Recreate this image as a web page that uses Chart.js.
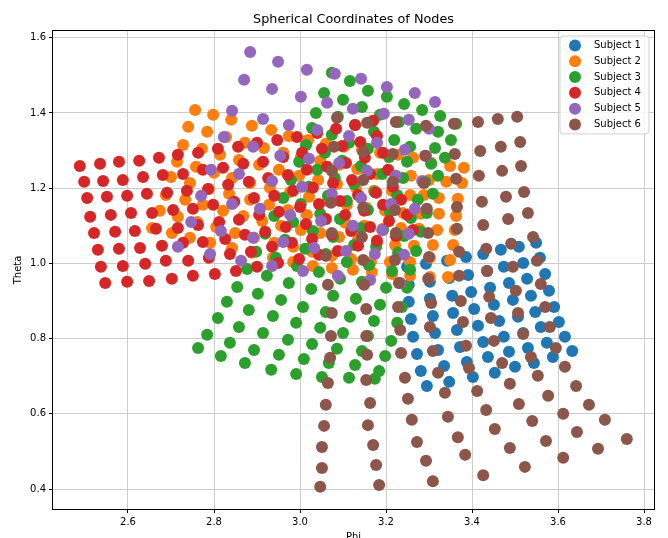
<!DOCTYPE html>
<html lang="en">
<head>
<meta charset="UTF-8">
<title>Spherical Coordinates of Nodes</title>
<script src="https://cdn.jsdelivr.net/npm/chart.js@4"></script>
<style>
  html, body { margin: 0; padding: 0; background: #fff; }
  #wrap { width: 668px; height: 538px; }
</style>
</head>
<body>
<div id="wrap"><canvas id="nodesChart" width="668" height="538"></canvas></div>
<script>
const subjectNames = ['Subject 1', 'Subject 2', 'Subject 3', 'Subject 4', 'Subject 5', 'Subject 6'];
const subjectColors = ['#1f77b4', '#ff7f0e', '#2ca02c', '#d62728', '#9467bd', '#8c564b'];
const xTicks = [2.6, 2.8, 3.0, 3.2, 3.4, 3.6, 3.8];
const yTicks = [0.4, 0.6, 0.8, 1.0, 1.2, 1.4, 1.6];
const phiRange = [2.4256, 3.8232];
const thetaRange = [0.347, 1.618];

// Subject 1 (8 x 8 nodes)
const s1Phi = [
  3.295, 3.347, 3.402, 3.453, 3.500, 3.544, 3.588, 3.633,
  3.281, 3.335, 3.388, 3.437, 3.486, 3.530, 3.574, 3.616,
  3.272, 3.321, 3.372, 3.426, 3.474, 3.519, 3.560, 3.602,
  3.263, 3.314, 3.365, 3.414, 3.463, 3.507, 3.547, 3.591,
  3.258, 3.309, 3.356, 3.405, 3.451, 3.495, 3.537, 3.579,
  3.253, 3.302, 3.354, 3.398, 3.442, 3.486, 3.528, 3.570,
  3.253, 3.302, 3.347, 3.391, 3.435, 3.474, 3.519, 3.558,
  3.249, 3.293, 3.342, 3.386, 3.426, 3.467, 3.509, 3.549
];
const s1Theta = [
  0.674, 0.685, 0.698, 0.709, 0.725, 0.735, 0.751, 0.767,
  0.714, 0.727, 0.738, 0.751, 0.765, 0.775, 0.789, 0.805,
  0.759, 0.770, 0.778, 0.791, 0.805, 0.815, 0.831, 0.844,
  0.805, 0.815, 0.823, 0.834, 0.847, 0.858, 0.871, 0.884,
  0.852, 0.860, 0.868, 0.879, 0.890, 0.903, 0.914, 0.927,
  0.898, 0.906, 0.914, 0.924, 0.935, 0.948, 0.959, 0.972,
  0.943, 0.951, 0.961, 0.969, 0.980, 0.991, 1.001, 1.015,
  0.991, 0.999, 1.007, 1.017, 1.025, 1.036, 1.044, 1.055
];

// Subject 2
const s2Phi = [
  2.756, 2.798, 2.840, 2.888, 2.933, 2.974, 3.019, 3.060, 3.102, 3.144, 3.186, 3.228, 3.263, 3.305, 3.349, 3.381,
  2.740, 2.784, 2.828, 2.872, 2.916, 2.961, 3.002, 3.047, 3.091, 3.133, 3.179, 3.221, 3.258, 3.300, 3.340, 3.377,
  2.728, 2.772, 2.814, 2.858, 2.905, 2.951, 2.998, 3.042, 3.086, 3.130, 3.172, 3.214, 3.256, 3.288, 3.323, 3.367,
  2.714, 2.758, 2.800, 2.842, 2.884, 2.930, 2.977, 3.021, 3.065, 3.109, 3.154, 3.198, 3.240, 3.281, 3.323, 3.363,
  2.700, 2.744, 2.788, 2.835, 2.884, 2.928, 2.972, 3.016, 3.060, 3.105, 3.149, 3.193, 3.235, 3.277, 3.319, 3.360,
  2.688, 2.733, 2.774, 2.821, 2.868, 2.912, 2.956, 3.002, 3.047, 3.091, 3.135, 3.179, 3.221, 3.265, 3.309, 3.356,
  2.674, 2.716, 2.761, 2.805, 2.849, 2.893, 2.940, 2.984, 3.028, 3.074, 3.119, 3.165, 3.209, 3.256, 3.302, 3.349,
  2.656, 2.702, 2.744, 2.791, 2.842, 2.888, 2.937, 2.984, 3.030, 3.074, 3.123, 3.167, 3.214, 3.256, 3.302, 3.344
];
const s2Theta = [
  1.408, 1.395, 1.382, 1.366, 1.355, 1.339, 1.328, 1.318, 1.310, 1.302, 1.294, 1.289, 1.281, 1.267, 1.259, 1.254,
  1.363, 1.350, 1.336, 1.321, 1.307, 1.294, 1.283, 1.273, 1.262, 1.251, 1.238, 1.233, 1.233, 1.222, 1.217, 1.214,
  1.315, 1.305, 1.289, 1.275, 1.262, 1.249, 1.233, 1.222, 1.211, 1.201, 1.193, 1.193, 1.182, 1.182, 1.174, 1.172,
  1.270, 1.257, 1.241, 1.227, 1.214, 1.201, 1.190, 1.177, 1.166, 1.156, 1.148, 1.140, 1.134, 1.132, 1.132, 1.126,
  1.230, 1.214, 1.198, 1.185, 1.169, 1.156, 1.142, 1.129, 1.118, 1.108, 1.100, 1.092, 1.094, 1.092, 1.089, 1.089,
  1.182, 1.169, 1.156, 1.140, 1.126, 1.113, 1.100, 1.089, 1.081, 1.070, 1.063, 1.055, 1.049, 1.047, 1.049, 1.049,
  1.140, 1.124, 1.110, 1.097, 1.081, 1.068, 1.055, 1.044, 1.031, 1.020, 1.012, 1.004, 1.004, 1.004, 1.015, 1.009,
  1.094, 1.081, 1.068, 1.055, 1.041, 1.028, 1.015, 1.004, 0.993, 0.988, 0.983, 0.977, 0.972, 0.967, 0.964, 0.964
];

// Subject 3 (columns, bottom to top)
const s3Phi = [
  2.763, 2.784, 2.809, 2.830, 2.854, 2.877, 2.898, 2.919, 2.940, 2.961, 2.979, 2.998, 3.014, 3.028, 3.037, 3.056, 3.074,
  2.816, 2.837, 2.858, 2.881, 2.902, 2.923, 2.944, 2.965, 2.984, 3.002, 3.021, 3.040, 3.058, 3.074, 3.088, 3.100, 3.116,
  2.872, 2.893, 2.914, 2.937, 2.956, 2.974, 2.993, 3.012, 3.030, 3.047, 3.065, 3.081, 3.098, 3.114, 3.128, 3.144, 3.158,
  2.933, 2.951, 2.972, 2.991, 3.007, 3.026, 3.044, 3.060, 3.077, 3.093, 3.109, 3.126, 3.142, 3.158, 3.172, 3.186, 3.202,
  2.991, 3.009, 3.028, 3.047, 3.060, 3.077, 3.093, 3.109, 3.126, 3.142, 3.158, 3.174, 3.191, 3.207, 3.219, 3.230, 3.242,
  3.051, 3.067, 3.086, 3.100, 3.116, 3.130, 3.144, 3.160, 3.177, 3.193, 3.209, 3.226, 3.240, 3.249, 3.256, 3.270, 3.284,
  3.114, 3.128, 3.144, 3.158, 3.172, 3.186, 3.200, 3.214, 3.228, 3.242, 3.258, 3.274, 3.291, 3.305, 3.314, 3.321, 3.326,
  3.174, 3.184, 3.198, 3.212, 3.226, 3.237, 3.249, 3.256, 3.270, 3.281, 3.295, 3.309, 3.321, 3.337, 3.351, 3.363
];
const s3Theta = [
  0.775, 0.810, 0.855, 0.898, 0.937, 0.985, 1.031, 1.079, 1.126, 1.174, 1.222, 1.270, 1.315, 1.360, 1.400, 1.453, 1.507,
  0.754, 0.789, 0.831, 0.876, 0.919, 0.967, 1.015, 1.063, 1.110, 1.158, 1.204, 1.249, 1.294, 1.342, 1.390, 1.435, 1.485,
  0.735, 0.770, 0.815, 0.860, 0.903, 0.948, 0.993, 1.039, 1.086, 1.132, 1.180, 1.227, 1.273, 1.321, 1.368, 1.416, 1.459,
  0.717, 0.757, 0.797, 0.842, 0.884, 0.932, 0.977, 1.025, 1.070, 1.118, 1.166, 1.211, 1.259, 1.305, 1.350, 1.395, 1.443,
  0.706, 0.746, 0.786, 0.829, 0.871, 0.914, 0.959, 1.004, 1.049, 1.094, 1.142, 1.190, 1.238, 1.283, 1.328, 1.376, 1.424,
  0.698, 0.735, 0.773, 0.815, 0.858, 0.906, 0.951, 0.996, 1.044, 1.089, 1.137, 1.182, 1.227, 1.270, 1.310, 1.358, 1.408,
  0.696, 0.730, 0.767, 0.807, 0.847, 0.890, 0.935, 0.980, 1.028, 1.073, 1.121, 1.169, 1.217, 1.265, 1.307, 1.350, 1.392,
  0.693, 0.714, 0.754, 0.794, 0.842, 0.884, 0.935, 0.983, 1.033, 1.084, 1.134, 1.185, 1.233, 1.281, 1.328, 1.371
];

// Subject 4
const s4Phi = [
  2.488, 2.535, 2.579, 2.626, 2.672, 2.716, 2.763, 2.809, 2.856, 2.900, 2.947, 2.993, 3.040, 3.084, 3.128, 3.170,
  2.498, 2.542, 2.588, 2.635, 2.681, 2.728, 2.774, 2.821, 2.868, 2.914, 2.961, 3.005, 3.051, 3.098, 3.140, 3.179,
  2.505, 2.551, 2.598, 2.644, 2.691, 2.737, 2.786, 2.833, 2.881, 2.926, 2.972, 3.016, 3.063, 3.107, 3.151, 3.193,
  2.512, 2.560, 2.607, 2.656, 2.705, 2.751, 2.798, 2.847, 2.893, 2.940, 2.984, 3.030, 3.077, 3.121, 3.163, 3.205,
  2.521, 2.570, 2.616, 2.665, 2.716, 2.763, 2.812, 2.858, 2.905, 2.951, 3.000, 3.044, 3.093, 3.135, 3.177, 3.216,
  2.530, 2.579, 2.628, 2.679, 2.728, 2.774, 2.826, 2.872, 2.919, 2.967, 3.014, 3.060, 3.105, 3.149, 3.193, 3.235,
  2.537, 2.588, 2.640, 2.688, 2.740, 2.788, 2.837, 2.886, 2.935, 2.981, 3.028, 3.074, 3.119, 3.163, 3.207, 3.249,
  2.547, 2.598, 2.649, 2.702, 2.751, 2.802, 2.851, 2.900, 2.949, 2.998, 3.044, 3.088, 3.135, 3.179, 3.223, 3.263
];
const s4Theta = [
  1.259, 1.265, 1.270, 1.273, 1.281, 1.289, 1.294, 1.305, 1.310, 1.321, 1.328, 1.336, 1.347, 1.358, 1.368, 1.379,
  1.217, 1.219, 1.222, 1.230, 1.235, 1.238, 1.249, 1.254, 1.265, 1.270, 1.283, 1.294, 1.305, 1.312, 1.323, 1.339,
  1.174, 1.177, 1.180, 1.185, 1.188, 1.193, 1.198, 1.209, 1.217, 1.227, 1.235, 1.249, 1.257, 1.267, 1.281, 1.294,
  1.124, 1.129, 1.134, 1.134, 1.142, 1.145, 1.156, 1.164, 1.174, 1.180, 1.193, 1.201, 1.214, 1.222, 1.238, 1.249,
  1.081, 1.084, 1.086, 1.092, 1.094, 1.102, 1.110, 1.116, 1.129, 1.137, 1.150, 1.158, 1.166, 1.182, 1.188, 1.204,
  1.036, 1.039, 1.041, 1.047, 1.055, 1.057, 1.065, 1.076, 1.084, 1.097, 1.105, 1.118, 1.129, 1.140, 1.156, 1.169,
  0.991, 0.993, 0.999, 1.007, 1.007, 1.015, 1.025, 1.031, 1.044, 1.055, 1.065, 1.076, 1.086, 1.097, 1.113, 1.129,
  0.948, 0.951, 0.953, 0.959, 0.967, 0.972, 0.980, 0.991, 1.001, 1.012, 1.023, 1.033, 1.047, 1.060, 1.073, 1.089
];

// Subject 5
const s5Phi = [
  2.884, 2.949, 3.016, 3.081, 3.142, 3.202, 3.267, 3.314,
  2.870, 2.935, 3.002, 3.063, 3.123, 3.195, 3.253, 3.300,
  2.842, 2.914, 2.974, 3.040, 3.114, 3.179, 3.244, 3.293,
  2.823, 2.891, 2.954, 3.021, 3.091, 3.156, 3.223, 3.284,
  2.793, 2.858, 2.935, 3.005, 3.074, 3.142, 3.212, 3.267,
  2.770, 2.842, 2.907, 2.977, 3.049, 3.123, 3.191, 3.253,
  2.747, 2.816, 2.891, 2.961, 3.033, 3.107, 3.174, 3.242,
  2.716, 2.791, 2.863, 2.935, 3.007, 3.088, 3.163, 3.233
];
const s5Theta = [
  1.562, 1.536, 1.515, 1.504, 1.491, 1.469, 1.453, 1.429,
  1.488, 1.464, 1.443, 1.427, 1.411, 1.398, 1.382, 1.358,
  1.406, 1.384, 1.368, 1.355, 1.339, 1.321, 1.302, 1.286,
  1.336, 1.310, 1.286, 1.278, 1.267, 1.246, 1.233, 1.219,
  1.249, 1.238, 1.219, 1.204, 1.185, 1.174, 1.158, 1.145,
  1.180, 1.158, 1.145, 1.129, 1.113, 1.100, 1.089, 1.079,
  1.110, 1.086, 1.068, 1.057, 1.041, 1.033, 1.025, 1.023,
  1.044, 1.025, 1.007, 0.993, 0.980, 0.967, 0.956, 0.948
];

// Subject 6
const s6Phi = [
  3.086, 3.156, 3.223, 3.293, 3.358, 3.414, 3.460, 3.505,
  3.079, 3.147, 3.216, 3.291, 3.360, 3.419, 3.467, 3.512,
  3.074, 3.147, 3.216, 3.288, 3.363, 3.416, 3.470, 3.514,
  3.072, 3.147, 3.221, 3.295, 3.365, 3.423, 3.479, 3.521,
  3.074, 3.144, 3.223, 3.298, 3.365, 3.426, 3.484, 3.530,
  3.060, 3.147, 3.221, 3.300, 3.370, 3.433, 3.491, 3.542,
  3.065, 3.149, 3.230, 3.298, 3.370, 3.435, 3.495, 3.551,
  3.074, 3.154, 3.228, 3.305, 3.374, 3.440, 3.502, 3.560,
  3.072, 3.154, 3.233, 3.302, 3.379, 3.444, 3.507, 3.570,
  3.070, 3.156, 3.235, 3.309, 3.386, 3.451, 3.519, 3.581,
  3.065, 3.154, 3.244, 3.321, 3.393, 3.470, 3.537, 3.595,
  3.060, 3.163, 3.251, 3.337, 3.412, 3.488, 3.553, 3.616,
  3.056, 3.158, 3.260, 3.344, 3.433, 3.509, 3.577, 3.642,
  3.051, 3.170, 3.272, 3.367, 3.453, 3.540, 3.612, 3.672,
  3.051, 3.177, 3.293, 3.384, 3.488, 3.572, 3.644, 3.709,
  3.047, 3.184, 3.309, 3.426, 3.523, 3.612, 3.693, 3.760
];
const s6Theta = [
  1.387, 1.374, 1.376, 1.366, 1.371, 1.376, 1.384, 1.390,
  1.310, 1.297, 1.291, 1.286, 1.291, 1.299, 1.310, 1.323,
  1.246, 1.222, 1.217, 1.214, 1.225, 1.233, 1.246, 1.259,
  1.161, 1.148, 1.142, 1.145, 1.150, 1.164, 1.177, 1.190,
  1.081, 1.070, 1.081, 1.081, 1.092, 1.102, 1.118, 1.134,
  1.020, 1.009, 1.009, 1.017, 1.031, 1.039, 1.052, 1.070,
  0.943, 0.943, 0.948, 0.959, 0.967, 0.980, 0.991, 1.007,
  0.868, 0.879, 0.884, 0.895, 0.900, 0.911, 0.927, 0.945,
  0.807, 0.807, 0.823, 0.831, 0.844, 0.855, 0.868, 0.884,
  0.749, 0.757, 0.762, 0.767, 0.781, 0.794, 0.812, 0.831,
  0.682, 0.690, 0.696, 0.709, 0.722, 0.735, 0.751, 0.775,
  0.624, 0.629, 0.640, 0.656, 0.661, 0.680, 0.701, 0.725,
  0.568, 0.570, 0.584, 0.592, 0.610, 0.626, 0.648, 0.674,
  0.512, 0.517, 0.525, 0.538, 0.560, 0.581, 0.600, 0.624,
  0.456, 0.464, 0.475, 0.491, 0.509, 0.528, 0.552, 0.584,
  0.406, 0.411, 0.421, 0.437, 0.459, 0.483, 0.507, 0.533
];

const phiSets = [s1Phi, s2Phi, s3Phi, s4Phi, s5Phi, s6Phi];
const thetaSets = [s1Theta, s2Theta, s3Theta, s4Theta, s5Theta, s6Theta];

const FONT = 'DejaVu Sans';

// matplotlib draws later series on top; chart.js draws lower "order" last
const datasets = subjectNames.map((name, i) => ({
    label: name,
    data: phiSets[i].map((p, k) => ({ x: p, y: thetaSets[i][k] })),
    backgroundColor: subjectColors[i],
    borderColor: subjectColors[i],
    borderWidth: 0,
    pointRadius: 6,
    pointHoverRadius: 6,
    order: subjectNames.length - 1 - i
}));

// box round the axes + legend in the top right corner
const framePlugin = {
    id: 'frame',
    afterDraw(chart) {
        const { ctx, chartArea: a } = chart;
        ctx.save();
        ctx.strokeStyle = '#000';
        ctx.lineWidth = 1;
        ctx.strokeRect(Math.round(a.left) - 0.5, Math.round(a.top) - 0.5,
            Math.round(a.right - a.left) + 1, Math.round(a.bottom - a.top) + 1);

        const w = 89, h = 98, r = 3;
        const x0 = a.right - 5 - w, y0 = a.top + 5;
        ctx.beginPath();
        ctx.moveTo(x0 + r, y0);
        ctx.arcTo(x0 + w, y0, x0 + w, y0 + h, r);
        ctx.arcTo(x0 + w, y0 + h, x0, y0 + h, r);
        ctx.arcTo(x0, y0 + h, x0, y0, r);
        ctx.arcTo(x0, y0, x0 + w, y0, r);
        ctx.closePath();
        ctx.fillStyle = 'rgba(255,255,255,0.8)';
        ctx.fill();
        ctx.strokeStyle = '#d0d0d0';
        ctx.stroke();

        ctx.font = '10px "' + FONT + '"';
        ctx.textBaseline = 'middle';
        ctx.textAlign = 'left';
        chart.data.datasets.forEach((ds, i) => {
            const cy = y0 + 9.5 + i * 15.8;
            ctx.beginPath();
            ctx.arc(x0 + 15, cy, 6, 0, Math.PI * 2);
            ctx.fillStyle = ds.backgroundColor;
            ctx.fill();
            ctx.fillStyle = '#000';
            ctx.fillText(ds.label, x0 + 34, cy);
        });
        ctx.restore();
    }
};

const tickFont = { family: FONT, size: 10 };

new Chart(document.getElementById('nodesChart'), {
    type: 'scatter',
    data: { datasets: datasets },
    options: {
        responsive: false,
        animation: false,
        events: [],
        layout: { padding: { top: 0, right: 14, bottom: -5, left: 0 } },
        plugins: {
            legend: { display: false },
            tooltip: { enabled: false },
            title: {
                display: true,
                text: 'Spherical Coordinates of Nodes',
                fullSize: false,
                color: '#000',
                font: { family: FONT, size: 12.8, weight: 'normal' },
                padding: { top: 12, bottom: 3.6 }
            }
        },
        scales: {
            x: {
                type: 'linear',
                min: phiRange[0],
                max: phiRange[1],
                afterBuildTicks: (s) => { s.ticks = xTicks.map(v => ({ value: v })); },
                afterFit: (s) => { s.height = 34; },
                ticks: { color: '#000', font: tickFont, padding: 3, maxRotation: 0, autoSkip: false,
                         callback: (v) => Number(v).toFixed(1) },
                grid: { color: '#cccccc', lineWidth: 1, tickColor: '#000', tickLength: 4, tickWidth: 1 },
                border: { display: false },
                title: { display: true, text: 'Phi', color: '#000', font: tickFont, padding: 0 }
            },
            y: {
                type: 'linear',
                min: thetaRange[0],
                max: thetaRange[1],
                afterBuildTicks: (s) => { s.ticks = yTicks.map(v => ({ value: v })); },
                afterFit: (s) => { s.width = 53; },
                ticks: { color: '#000', font: tickFont, padding: 3, autoSkip: false,
                         callback: (v) => Number(v).toFixed(1) },
                grid: { color: '#cccccc', lineWidth: 1, tickColor: '#000', tickLength: 4, tickWidth: 1 },
                border: { display: false },
                title: { display: true, text: 'Theta', color: '#000', font: tickFont, padding: { top: 12, bottom: 0 } }
            }
        }
    },
    plugins: [framePlugin]
});
</script>
</body>
</html>
